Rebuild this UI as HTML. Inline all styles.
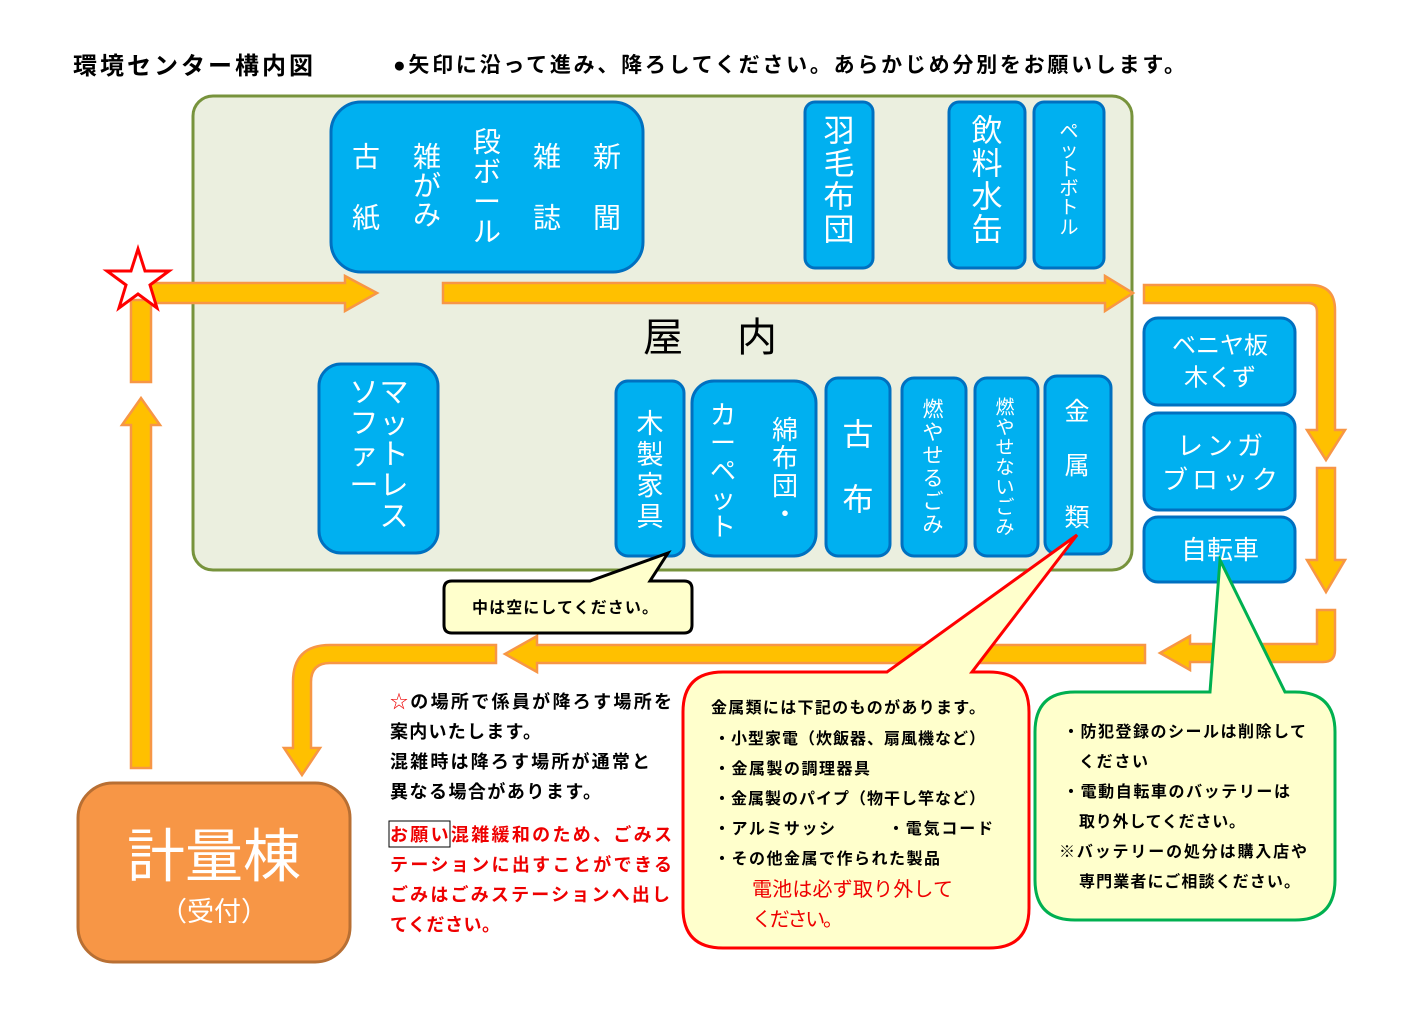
<!DOCTYPE html>
<html><head><meta charset="utf-8"><style>
html,body{margin:0;padding:0;background:#fff;width:1412px;height:1023px;overflow:hidden}
svg{display:block;font-family:"Liberation Sans","Noto Sans CJK JP",sans-serif}
.w{fill:#fff;text-anchor:middle;dominant-baseline:central}
.b{fill:#000;font-weight:bold}
.r{fill:#e00;font-weight:bold}
.box{fill:#00B0F0;stroke:#0070C0;stroke-width:3}
.ar{fill:#FFC000;stroke:#F79646;stroke-width:2.5}
</style></head><body>
<svg width="1412" height="1023" viewBox="0 0 1412 1023">
<text x="73" y="74" font-size="24" class="b" textLength="240" lengthAdjust="spacing">環境センター構内図</text>
<text x="393" y="72" font-size="21" class="b" textLength="792" lengthAdjust="spacing">●矢印に沿って進み、降ろしてください。あらかじめ分別をお願いします。</text>

<rect x="193" y="96" width="939" height="474" rx="20" fill="#EBEFDF" stroke="#77933C" stroke-width="3"/>

<polygon class="ar" points="150,283 345,283 345,276 377,293 345,311 345,303 150,303"/>
<polygon class="ar" points="443,283 1105,283 1105,276 1133,293 1105,311 1105,303 443,303"/>
<rect class="ar" x="131" y="300" width="20" height="82"/>
<polygon class="ar" points="131,768 131,425 122,425 141,398 160,425 151,425 151,768"/>
<path class="ar" d="M1144,285 L1310,285 Q1335,285 1335,310 L1335,430 L1345,430 L1326,460 L1307,430 L1317,430 L1317,312 Q1317,303 1308,303 L1144,303 Z"/>
<polygon class="ar" points="1317,468 1335,468 1335,560 1345,560 1326,592 1307,560 1317,560"/>
<path class="ar" d="M1317,610 L1335,610 L1335,650 Q1335,662 1323,662 L1190,662 L1190,670 L1160,653 L1190,636 L1190,644 L1317,644 Z"/>
<polygon class="ar" points="1145,645 1145,663 537,663 537,672 505,654 537,636 537,645"/>
<path class="ar" d="M496,645 L330,645 Q293,645 293,682 L293,748 L284,748 L302,775 L320,748 L311,748 L311,682 Q311,663 330,663 L496,663 Z"/>

<polygon points="138,249 145,271 169,271 150,285 157,308 138,294 119,308 126,285 107,271 131,271" fill="#fff" stroke="#f00" stroke-width="3"/>

<rect class="box" x="331" y="102" width="312" height="170" rx="30"/>
<g font-size="28" class="w">
<text x="607" y="157">新</text><text x="607" y="218">聞</text>
<text x="547" y="157">雑</text><text x="547" y="218">誌</text>
<text x="487" y="142">段</text><text x="487" y="172">ボ</text><text x="487" y="202">ー</text><text x="487" y="232">ル</text>
<text x="427" y="157">雑</text><text x="427" y="186">が</text><text x="427" y="215">み</text>
<text x="366" y="157">古</text><text x="366" y="218">紙</text>
</g>
<rect class="box" x="805" y="102" width="68" height="166" rx="10"/>
<g font-size="31" class="w"><text x="839" y="131">羽</text><text x="839" y="164">毛</text><text x="839" y="197">布</text><text x="839" y="230">団</text></g>
<rect class="box" x="949" y="102" width="76" height="166" rx="10"/>
<g font-size="31" class="w"><text x="987" y="131">飲</text><text x="987" y="164">料</text><text x="987" y="197">水</text><text x="987" y="230">缶</text></g>
<rect class="box" x="1034" y="102" width="70" height="166" rx="10"/>
<g font-size="19" class="w"><text x="1069" y="132">ペ</text><text x="1069" y="151">ッ</text><text x="1069" y="170">ト</text><text x="1069" y="189">ボ</text><text x="1069" y="208">ト</text><text x="1069" y="228">ル</text></g>

<text x="663" y="338" font-size="40" class="w" style="fill:#000">屋</text>
<text x="757" y="338" font-size="40" class="w" style="fill:#000">内</text>

<rect class="box" x="319" y="364" width="119" height="189" rx="22"/>
<g font-size="29" class="w">
<text x="394" y="393">マ</text><text x="394" y="424">ッ</text><text x="394" y="455">ト</text><text x="394" y="486">レ</text><text x="394" y="517">ス</text>
<text x="364" y="393">ソ</text><text x="364" y="424">フ</text><text x="364" y="455">ァ</text><text x="364" y="486">ー</text>
</g>
<rect class="box" x="616" y="381" width="68" height="175" rx="12"/>
<g font-size="27" class="w"><text x="650" y="424">木</text><text x="650" y="455">製</text><text x="650" y="486">家</text><text x="650" y="517">具</text></g>
<rect class="box" x="692" y="381" width="124" height="175" rx="22"/>
<g font-size="26" class="w">
<text x="785" y="430">綿</text><text x="785" y="458">布</text><text x="785" y="486">団</text><text x="785" y="514">・</text>
<text x="723" y="415">カ</text><text x="723" y="443">ー</text><text x="723" y="471">ペ</text><text x="723" y="499">ッ</text><text x="723" y="527">ト</text>
</g>
<rect class="box" x="826" y="378" width="64" height="178" rx="12"/>
<g font-size="31" class="w"><text x="858" y="435">古</text><text x="858" y="500">布</text></g>
<rect class="box" x="902" y="378" width="64" height="178" rx="12"/>
<g font-size="21" class="w"><text x="933" y="410">燃</text><text x="933" y="433">や</text><text x="933" y="456">せ</text><text x="933" y="479">る</text><text x="933" y="502">ご</text><text x="933" y="525">み</text></g>
<rect class="box" x="975" y="378" width="63" height="178" rx="12"/>
<g font-size="19" class="w"><text x="1005" y="408">燃</text><text x="1005" y="428">や</text><text x="1005" y="448">せ</text><text x="1005" y="468">な</text><text x="1005" y="488">い</text><text x="1005" y="508">ご</text><text x="1005" y="528">み</text></g>
<rect class="box" x="1045" y="376" width="66" height="178" rx="12"/>
<g font-size="25" class="w"><text x="1077" y="412">金</text><text x="1077" y="466">属</text><text x="1077" y="518">類</text></g>

<rect class="box" x="1144" y="318" width="151" height="87" rx="14"/>
<g font-size="24" class="w"><text x="1220" y="346">ベニヤ板</text><text x="1220" y="378">木くず</text></g>
<rect class="box" x="1144" y="413" width="151" height="97" rx="14"/>
<g font-size="26" class="w" letter-spacing="4"><text x="1222" y="446">レンガ</text><text x="1222" y="480">ブロック</text></g>
<rect class="box" x="1144" y="517" width="151" height="65" rx="14"/>
<text x="1220" y="550" font-size="26" class="w">自転車</text>

<path d="M452,581 L590,581 L668,553 L650,581 L684,581 Q692,581 692,589 L692,625 Q692,633 684,633 L452,633 Q444,633 444,625 L444,589 Q444,581 452,581 Z" fill="#FFFFCC" stroke="#000" stroke-width="3"/>
<text x="472" y="613" font-size="16" class="b" textLength="186" lengthAdjust="spacing">中は空にしてください。</text>

<path d="M723,672 L887,672 L1077,535 L972,672 L989,672 Q1029,672 1029,712 L1029,908 Q1029,948 989,948 L723,948 Q683,948 683,908 L683,712 Q683,672 723,672 Z" fill="#FFFFCC" stroke="#f00" stroke-width="3"/>
<g font-size="16" class="b">
<text x="711" y="713" textLength="274" lengthAdjust="spacing">金属類には下記のものがあります。</text>
<text x="714" y="744" textLength="271" lengthAdjust="spacing">・小型家電（炊飯器、扇風機など）</text>
<text x="714" y="774" textLength="156" lengthAdjust="spacing">・金属製の調理器具</text>
<text x="714" y="804" textLength="271" lengthAdjust="spacing">・金属製のパイプ（物干し竿など）</text>
<text x="714" y="834" textLength="121" lengthAdjust="spacing">・アルミサッシ</text><text x="888" y="834" textLength="105" lengthAdjust="spacing">・電気コード</text>
<text x="714" y="864" textLength="226" lengthAdjust="spacing">・その他金属で作られた製品</text>
</g>
<text x="752" y="896" font-size="20" fill="#e00" textLength="201" lengthAdjust="spacing">電池は必ず取り外して</text>
<text x="752" y="926" font-size="20" fill="#e00" textLength="91" lengthAdjust="spacing">ください。</text>

<path d="M1075,692 L1210,692 L1220,560 L1285,692 L1295,692 Q1335,692 1335,732 L1335,880 Q1335,920 1295,920 L1075,920 Q1035,920 1035,880 L1035,732 Q1035,692 1075,692 Z" fill="#FFFFCC" stroke="#00B050" stroke-width="3"/>
<g font-size="16" class="b">
<text x="1063" y="737" textLength="243" lengthAdjust="spacing">・防犯登録のシールは削除して</text>
<text x="1079" y="767" textLength="69" lengthAdjust="spacing">ください</text>
<text x="1063" y="797" textLength="227" lengthAdjust="spacing">・電動自転車のバッテリーは</text>
<text x="1079" y="827" textLength="166" lengthAdjust="spacing">取り外してください。</text>
<text x="1059" y="857" textLength="248" lengthAdjust="spacing">※バッテリーの処分は購入店や</text>
<text x="1079" y="887" textLength="221" lengthAdjust="spacing">専門業者にご相談ください。</text>
</g>

<g font-size="18" class="b">
<text x="390" y="708" textLength="282" lengthAdjust="spacing"><tspan fill="#e00" font-weight="normal">☆</tspan>の場所で係員が降ろす場所を</text>
<text x="390" y="738" textLength="151" lengthAdjust="spacing">案内いたします。</text>
<text x="390" y="768" textLength="260" lengthAdjust="spacing">混雑時は降ろす場所が通常と</text>
<text x="390" y="798" textLength="211" lengthAdjust="spacing">異なる場合があります。</text>
</g>
<rect x="389" y="821" width="61" height="26" fill="none" stroke="#000" stroke-width="1"/>
<g font-size="18" class="r">
<text x="390" y="841" textLength="282" lengthAdjust="spacing">お願い混雑緩和のため、ごみス</text>
<text x="390" y="871" textLength="282" lengthAdjust="spacing">テーションに出すことができる</text>
<text x="390" y="901" textLength="280" lengthAdjust="spacing">ごみはごみステーションへ出し</text>
<text x="390" y="931" textLength="110" lengthAdjust="spacing">てください。</text>
</g>

<rect x="78" y="783" width="272" height="179" rx="35" fill="#F79646" stroke="#B86F33" stroke-width="3"/>
<text x="214" y="857" font-size="58" class="w">計量棟</text>
<text x="214" y="912" font-size="27" class="w">（受付）</text>
</svg>
</body></html>
